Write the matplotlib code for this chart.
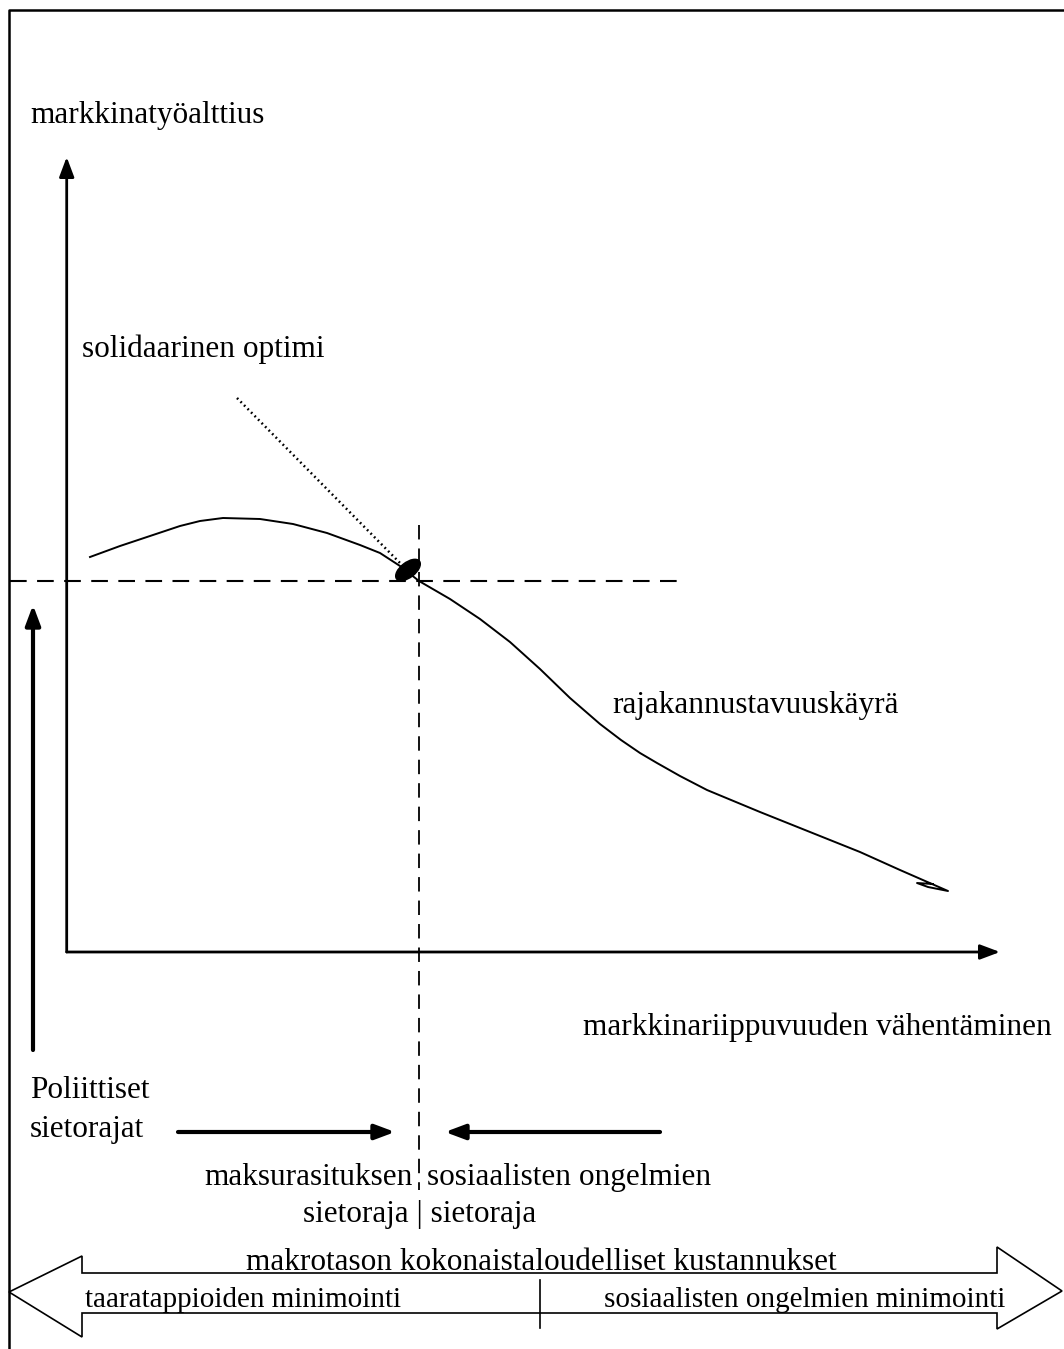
import matplotlib
matplotlib.use('Agg')
import matplotlib.pyplot as plt
from matplotlib.patches import Ellipse, Polygon

plt.rcParams['font.family'] = ['Liberation Serif', 'DejaVu Serif']

# curve (pixel coordinates of the drawing, y grows downwards)
curve_x = [90, 120, 153, 180, 200, 223, 260, 293, 327, 360, 380, 400, 419, 450, 480, 510, 540,
           570, 600, 621, 640, 657, 680, 707, 760, 800, 860, 900, 948, 928, 917, 933]
curve_y = [557, 546, 535, 526, 521, 518, 519, 524, 533, 545, 553, 566, 581, 599, 619, 642, 669,
           698, 724, 740, 753, 763, 776, 790, 812, 828, 852, 870, 891, 887, 883, 884]

optimum = (408, 570)
axis_origin = (66.7, 952)
y_tip = 157
x_tip = 1000
level_y = 581
level_x_end = 685
limit_x = 419

labels = {
    'y': 'markkinatyöalttius',
    'opt': 'solidaarinen optimi',
    'curve': 'rajakannustavuuskäyrä',
    'x': 'markkinariippuvuuden vähentäminen',
    'pol1': 'Poliittiset',
    'pol2': 'sietorajat',
    'l1a': 'maksurasituksen',
    'l1b': 'sosiaalisten ongelmien',
    'l2': 'sietoraja | sietoraja',
    'macro': 'makrotason kokonaistaloudelliset kustannukset',
    'left': 'taaratappioiden minimointi',
    'right': 'sosiaalisten ongelmien minimointi',
}

fig = plt.figure(figsize=(10.64, 13.49), dpi=100)
ax = fig.add_axes([0, 0, 1, 1])
ax.set_xlim(0, 1064)
ax.set_ylim(1349, 0)
ax.axis('off')

# frame
ax.plot([9, 9, 1064], [1349, 10, 10], color='black', lw=1.8)

def arrow(x0, y0, x1, y1, lw=2.0, hl=0.8, hw=0.3, ms=15):
    ax.annotate('', xy=(x1, y1), xytext=(x0, y0),
                arrowprops=dict(arrowstyle='-|>,head_length=%s,head_width=%s' % (hl, hw),
                                color='black', lw=lw, mutation_scale=ms,
                                shrinkA=0, shrinkB=0))

# axes
arrow(axis_origin[0], axis_origin[1], axis_origin[0], y_tip)
arrow(axis_origin[0], axis_origin[1], x_tip, axis_origin[1])

# dashed guide lines
ax.plot([10, level_x_end], [level_y, level_y], color='black', lw=1.5, dashes=(8, 5))
ax.plot([limit_x, limit_x], [525, 1190], color='black', lw=1.3, dashes=(8, 5))

# curve and optimum
ax.plot(curve_x, curve_y, color='black', lw=1.4, solid_joinstyle='round')
ax.add_patch(Ellipse(optimum, 29, 15, angle=-38, color='black'))
ax.plot([237, 400], [398, 563], color='black', lw=1.8, linestyle=(0, (0.7, 1.3)))

# political limits arrows
arrow(33, 1050, 33, 605, lw=3.0)
arrow(178, 1132, 395, 1132, lw=3.0)
arrow(660, 1132, 445, 1132, lw=3.0)

# big double arrow at the bottom
shape_x = [9, 82, 82, 997, 997, 1062, 997, 997, 82, 82]
shape_y = [1292, 1256, 1273, 1273, 1247, 1291, 1329, 1313, 1313, 1337]
ax.add_patch(Polygon(list(zip(shape_x, shape_y)), closed=True, fill=False,
                     edgecolor='black', lw=1.2))
ax.plot([540, 540], [1280, 1328], color='black', lw=1.2)

fs = 22.5
ax.text(30, 123, labels['y'], fontsize=fs, va='baseline')
ax.text(82, 357, labels['opt'], fontsize=fs, va='baseline')
ax.text(612, 713, labels['curve'], fontsize=fs, va='baseline')
ax.text(583, 1035, labels['x'], fontsize=fs, va='baseline')
ax.text(30, 1098, labels['pol1'], fontsize=fs, va='baseline')
ax.text(30, 1137, labels['pol2'], fontsize=fs, va='baseline')
ax.text(413, 1185, labels['l1a'], fontsize=fs, va='baseline', ha='right')
ax.text(427, 1185, labels['l1b'], fontsize=fs, va='baseline')
ax.text(303, 1222, labels['l2'], fontsize=fs, va='baseline')
ax.text(541, 1270, labels['macro'], fontsize=fs, va='baseline', ha='center')
ax.text(85, 1307, labels['left'], fontsize=21, va='baseline')
ax.text(1005, 1307, labels['right'], fontsize=21, va='baseline', ha='right')

fig.savefig('out.png', dpi=100)
